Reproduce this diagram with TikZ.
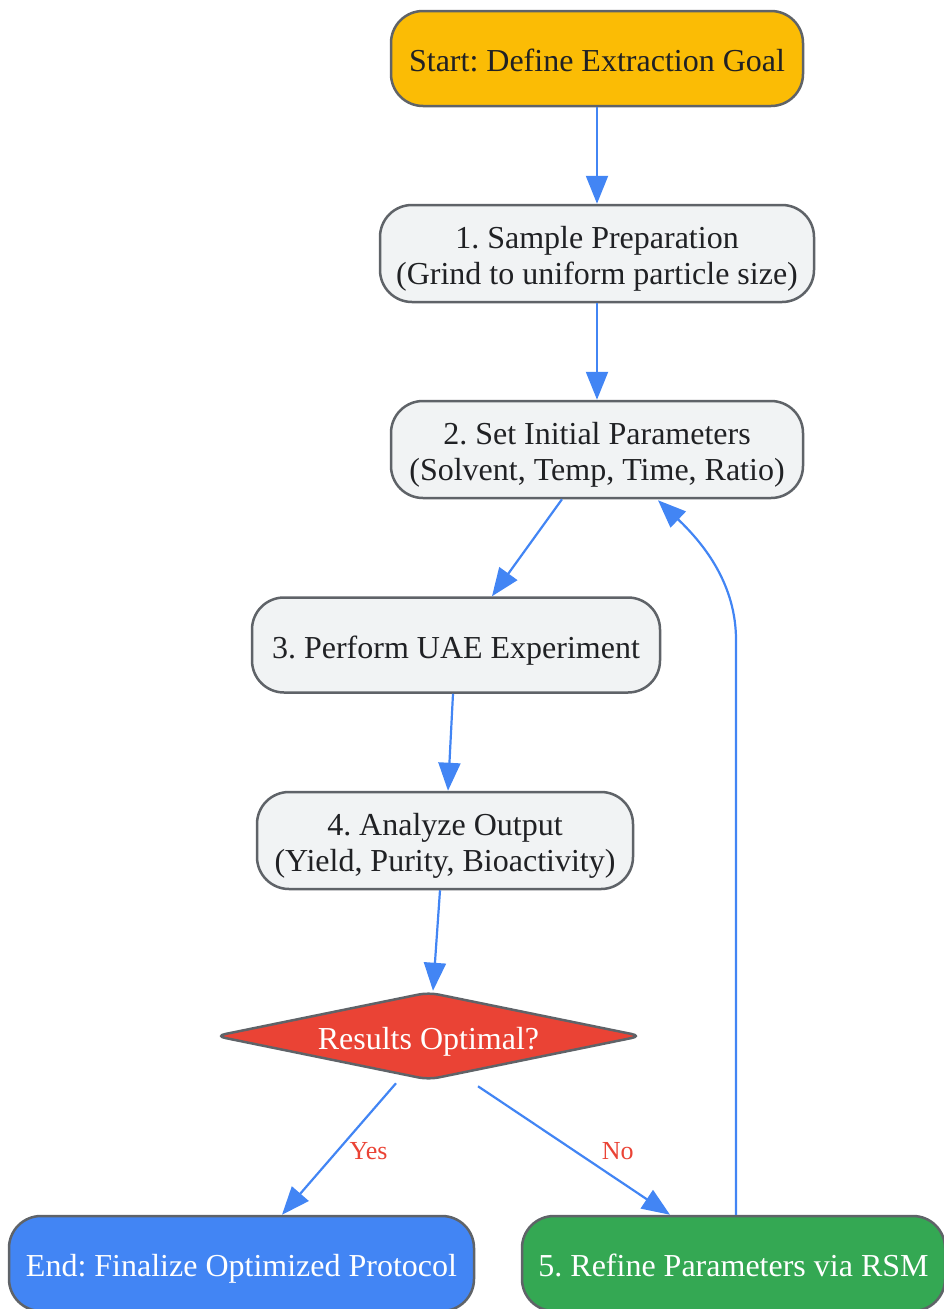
\documentclass[tikz,border=0pt]{standalone}
\usepackage{fontspec}
\setmainfont{Liberation Serif}
\usepackage{tikz}
\usetikzlibrary{arrows.meta, shapes.geometric, positioning}
\definecolor{gYellow}{HTML}{FBBC05}
\definecolor{gBlue}{HTML}{4285F4}
\definecolor{gRed}{HTML}{EA4335}
\definecolor{gGreen}{HTML}{34A853}
\definecolor{gGrey}{HTML}{F1F3F4}
\definecolor{gBorder}{HTML}{5F6368}
\definecolor{gText}{HTML}{202124}
\newcommand{\tallstrut}{\rule{0pt}{34pt}}
\tikzset{
>={Triangle[length=28pt,width=22pt]}, % big filled heads
box/.style={draw=gBorder, line width=2.5pt, rounded corners=32pt, align=center,
  inner sep=0pt, minimum height=95pt, font=\fontsize{32}{36}\selectfont,
  execute at begin node={\frenchspacing\rule[-8pt]{0pt}{42pt}}},
startbox/.style={box, fill=gYellow, text=gText},
stepbox/.style={box, fill=gGrey, text=gText},
endbox/.style={box, fill=gBlue, text=white},
refinebox/.style={box, fill=gGreen, text=white},
decision/.style={diamond, aspect=4.85, draw=gBorder, line width=2.5pt, fill=gRed, text=white,
  rounded corners=10pt, inner sep=0pt, minimum width=427pt, minimum height=88pt,
  font=\fontsize{32}{36}\selectfont,
  execute at begin node={\rule[-8pt]{0pt}{42pt}}},
flow/.style={->, draw=gBlue, line width=2.2pt},
lbl/.style={text=gRed, font=\fontsize{26}{30}\selectfont},
}
\begin{document}
\begin{tikzpicture}[x=1pt, y=-1pt]
  \useasboundingbox (0,0) rectangle (943,1309);
  \node[startbox, minimum width=412pt] (start) at (597,58.5) {Start: Define Extraction Goal};
  \node[stepbox, minimum width=434pt, minimum height=97pt] (prep) at (597,253.5)
    {\tallstrut 1. Sample Preparation\\(Grind to uniform particle size)};
  \node[stepbox, minimum width=412pt, minimum height=97pt] (setparam) at (597,449.5)
    {\tallstrut 2. Set Initial Parameters\\(Solvent, Temp, Time, Ratio)};
  \node[stepbox, minimum width=408pt] (uae) at (456,645) {3. Perform UAE Experiment};
  \node[stepbox, minimum width=376pt, minimum height=97pt] (analyze) at (445,840.5)
    {\tallstrut 4. Analyze Output\\(Yield, Purity, Bioactivity)};
  \node[decision] (optimal) at (428.5,1036) {Results Optimal?};
  \node[endbox, minimum width=465pt] (finish) at (241.5,1263.5) {End: Finalize Optimized Protocol};
  \node[refinebox, minimum width=423pt] (refine) at (733.5,1263.5) {5. Refine Parameters via RSM};

  \coordinate (bend) at (736,640);

  % main chain
  \draw[flow] (start) -- (prep);
  \draw[flow] (prep) -- (setparam);
  \draw[flow] ([xshift=-35pt]setparam.south) -- ([xshift=36pt]uae.north);
  \draw[flow] ([xshift=-3pt]uae.south) -- ([xshift=3pt]analyze.north);
  \draw[flow] ([xshift=-5pt]analyze.south) -- ([xshift=4.5pt]optimal.north);

  % decision
  \draw[flow] ([xshift=-32.5pt,yshift=-2pt]optimal.south) -- node[lbl, pos=.53, xshift=33pt, yshift=2pt]{Yes} ([xshift=40.5pt]finish.north);
  \draw[flow] ([xshift=49.5pt,yshift=-5pt]optimal.south) -- node[lbl, pos=.54, xshift=36pt, yshift=5pt]{No} ([xshift=-63.5pt]refine.north);

  % loop back
  \draw[flow] (refine.north -| bend) -- (bend)
    .. controls (736,585) and (705,545) .. ([xshift=61pt,yshift=-1pt]setparam.south);
\end{tikzpicture}
\end{document}
